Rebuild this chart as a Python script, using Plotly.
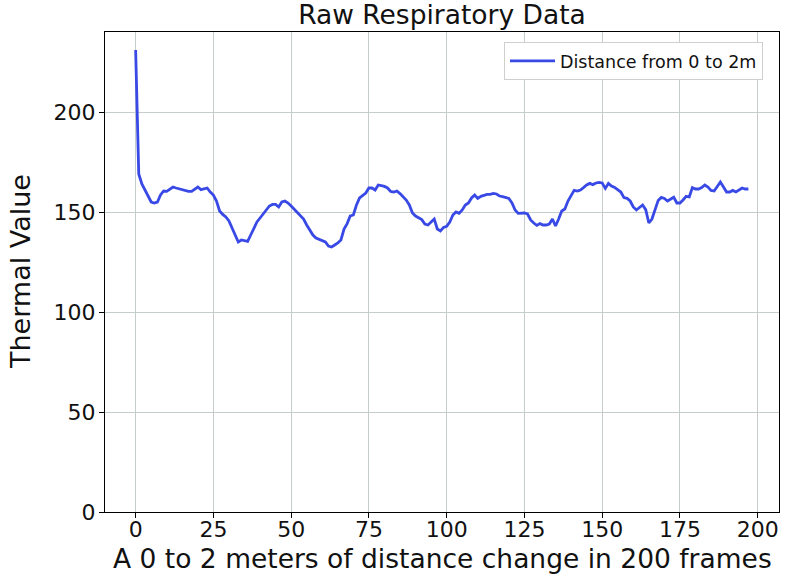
import plotly.graph_objects as go

# Frame index (0..197) and raw thermal values
frames = list(range(198))
thermal_values = [
    231, 169, 164, 161, 158, 155, 154.5, 155, 158.5, 160.5,
    160.3, 161.5, 162.5, 162, 161.5, 161, 160.5, 160.3, 160.3, 161.5,
    162.5, 161.2, 161.5, 162, 160, 158.5, 155.5, 150.5, 148.8, 147.5,
    145.5, 142, 138, 135, 136, 135.5, 135.3, 138.5, 142, 145,
    147, 149, 150.5, 153, 153.8, 153.8, 152.5, 155, 155.5, 154.5,
    153, 151.5, 150, 148.3, 146.5, 143.5, 141, 138.5, 137, 136.3,
    136, 135, 133, 132.5, 133.5, 134.5, 136, 141.5, 144.2, 148,
    148.5, 153.5, 157, 158.5, 159.5, 162, 162, 161, 163.5, 163.2,
    162.8, 162, 160.3, 160, 160.5, 159.2, 157.8, 156, 153.5, 149.5,
    148, 147, 146.2, 144, 143.5, 145, 146.5, 141.5, 140.5, 142.3,
    142.8, 145, 148.5, 150, 149.3, 151, 153.5, 154.5, 157, 158.5,
    156.8, 157.8, 158.5, 158.8, 158.8, 159.3, 159, 158, 157.7, 157.3,
    156.8, 154.5, 151, 149.3, 149.5, 149.5, 149, 146, 144.5, 143.3,
    144.2, 143.5, 143.5, 144, 146.5, 143, 146.5, 150.5, 151.5, 155.5,
    158.2, 160.8, 160.5, 161, 162.2, 163.5, 164.3, 163.7, 164.5, 164.8,
    164.5, 161.8, 164.3, 163, 162.3, 161, 160, 157.2, 156.8, 155.5,
    152.5, 151, 152.5, 153.5, 151.2, 144.5, 146.5, 151.5, 155.8, 157.3,
    156.8, 155.5, 156.5, 157.4, 154.5, 154.5, 156, 157.8, 157.5, 162.2,
    161.5, 161.5, 162.2, 163.5, 162.5, 160.8, 160.5, 162.5, 165, 162.5,
    160, 160, 160.8, 160, 160.8, 162, 161.5, 161.5,
]

x_ticks = [0, 25, 50, 75, 100, 125, 150, 175, 200]
y_ticks = [0, 50, 100, 150, 200]
series_name = "Distance from 0 to 2m"
chart_title = "Raw Respiratory Data"
x_title = "A 0 to 2 meters of distance change in 200 frames"
y_title = "Thermal Value"

FONT = "DejaVu Sans"
GRID = "#c6cdcd"
TXT = "#111111"

W, H = 787, 584
L, T, R, B = 105, 32, 8, 72
PW, PH = W - L - R, H - T - B

fig = go.Figure()
fig.add_trace(go.Scatter(
    x=frames, y=thermal_values, mode="lines", name=series_name,
    line=dict(color="#3949e6", width=2.8),
))

fig.update_layout(
    width=W, height=H,
    margin=dict(l=L, r=R, t=T, b=B, pad=0),
    paper_bgcolor="white", plot_bgcolor="white",
    font=dict(family=FONT, color=TXT),
    showlegend=True,
    legend=dict(
        x=(504 - L) / PW, y=(H - B - 42) / PH, xanchor="left", yanchor="top",
        bgcolor="white", bordercolor="#cfcfcf", borderwidth=1,
        itemwidth=45,
        font=dict(family=FONT, size=17.5, color=TXT),
    ),
    title=dict(text=chart_title, x=0.5, xref="paper", xanchor="center",
               y=1 - 15 / H, yref="container", yanchor="middle",
               font=dict(family=FONT, size=26.5, color=TXT)),
    annotations=[
        dict(text=x_title, xref="paper", yref="paper", x=0.5,
             y=-(558 - (H - B)) / PH,
             xanchor="center", yanchor="middle", showarrow=False,
             font=dict(family=FONT, size=26.5, color=TXT)),
        dict(text=y_title, xref="paper", yref="paper",
             x=(20 - L) / PW, y=0.5, textangle=-90,
             xanchor="center", yanchor="middle", showarrow=False,
             font=dict(family=FONT, size=27, color=TXT)),
    ],
)

fig.update_xaxes(
    range=[-9.85, 206.85], tickvals=x_ticks, ticktext=[str(v) for v in x_ticks],
    showgrid=True, gridcolor=GRID, gridwidth=1, zeroline=False,
    showline=True, linecolor="black", linewidth=1, mirror=True,
    ticks="outside", ticklen=5, tickcolor="black", ticklabelstandoff=-7,
    tickfont=dict(family=FONT, size=22, color=TXT),
)
fig.update_yaxes(
    range=[0, 240], tickvals=y_ticks, ticktext=[str(v) for v in y_ticks],
    showgrid=True, gridcolor=GRID, gridwidth=1, zeroline=False,
    showline=True, linecolor="black", linewidth=1, mirror=True,
    ticks="outside", ticklen=5, tickcolor="black", ticklabelstandoff=-1,
    tickfont=dict(family=FONT, size=22, color=TXT),
)

# remove the page's default 8px body margin so the figure fills the window
fig.write_html("out.html", config={"displayModeBar": False},
               post_script="document.body.style.margin='0';")
